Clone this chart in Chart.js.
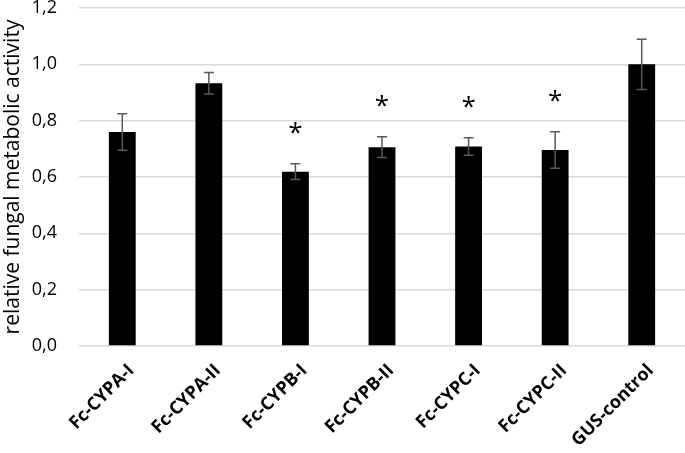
<!DOCTYPE html>
<html>
<head>
<meta charset="utf-8">
<script src="https://cdn.jsdelivr.net/npm/chart.js@4.4.1/dist/chart.umd.min.js"></script>
<style>
  html, body { margin: 0; padding: 0; background: #fff; }
  #wrap { width: 685px; height: 453px; position: relative; }
</style>
</head>
<body>
<div id="wrap"><canvas id="chart"></canvas></div>
<script>
const categories = ["Fc-CYPA-I", "Fc-CYPA-II", "Fc-CYPB-I", "Fc-CYPB-II", "Fc-CYPC-I", "Fc-CYPC-II", "GUS-control"];
const activity = [0.76, 0.933, 0.619, 0.706, 0.708, 0.696, 1.0];
const errors = [0.065, 0.038, 0.028, 0.037, 0.031, 0.065, 0.089];
const significant = [false, false, true, true, true, true, false];
const yTicks = [0, 0.2, 0.4, 0.6, 0.8, 1.0, 1.2];

const fontFamily = "'Open Sans', 'Noto Sans', sans-serif";

// error bars + asterisks drawn from the data through the scales
const errorBarPlugin = {
  id: "errorBars",
  afterDatasetsDraw(chart) {
    const ctx = chart.ctx;
    const meta = chart.getDatasetMeta(0);
    const y = chart.scales.y;
    ctx.save();
    meta.data.forEach((bar, i) => {
      const top = y.getPixelForValue(activity[i] + errors[i]);
      const bottom = y.getPixelForValue(activity[i] - errors[i]);
      ctx.strokeStyle = "#595959";
      ctx.lineWidth = 1.5;
      ctx.beginPath();
      ctx.moveTo(bar.x, top);
      ctx.lineTo(bar.x, bottom);
      ctx.moveTo(bar.x - 5, top);
      ctx.lineTo(bar.x + 5, top);
      ctx.moveTo(bar.x - 5, bottom);
      ctx.lineTo(bar.x + 5, bottom);
      ctx.stroke();
      if (significant[i]) {
        ctx.fillStyle = "#000";
        ctx.font = "26px " + fontFamily;
        ctx.textAlign = "center";
        ctx.textBaseline = "middle";
        ctx.fillText("*", bar.x, top - 30);
      }
    });
    ctx.restore();
  }
};

new Chart(document.getElementById("chart").getContext("2d"), {
  type: "bar",
  data: {
    labels: categories,
    datasets: [
      {
        data: activity,
        backgroundColor: "#000000",
        categoryPercentage: 1.0,
        barPercentage: 0.31,
      },
    ],
  },
  options: {
    responsive: true,
    maintainAspectRatio: false,
    animation: false,
    layout: { padding: { top: 8, right: 0, left: 0, bottom: 0 } },
    plugins: {
      legend: { display: false },
      tooltip: { enabled: false },
    },
    scales: {
      x: {
        grid: { display: false, drawTicks: false },
        border: { display: false },
        ticks: {
          color: "#000",
          minRotation: 45,
          maxRotation: 45,
          padding: 14,
          labelOffset: 9,
          font: { family: fontFamily, size: 18, weight: "bold" },
        },
        afterFit(scale) {
          scale.height = 107;
          scale.paddingLeft = 0;
          scale.paddingRight = 0;
        },
      },
      y: {
        min: 0,
        max: 1.2,
        afterBuildTicks(scale) {
          scale.ticks = yTicks.map((v) => ({ value: v }));
        },
        grid: { color: "#d9d9d9", lineWidth: 1.5, drawTicks: false },
        border: { display: false },
        ticks: {
          color: "#000",
          padding: 22,
          font: { family: fontFamily, size: 18 },
          callback: (v) => v.toFixed(1).replace(".", ","),
        },
        title: {
          display: true,
          text: "relative fungal metabolic activity",
          color: "#000",
          padding: 0,
          font: { family: fontFamily, size: 21 },
        },
        afterFit(scale) {
          scale.width = 79;
          scale.paddingTop = 0;
          scale.paddingBottom = 0;
        },
      },
    },
  },
  plugins: [errorBarPlugin],
});
</script>
</body>
</html>
